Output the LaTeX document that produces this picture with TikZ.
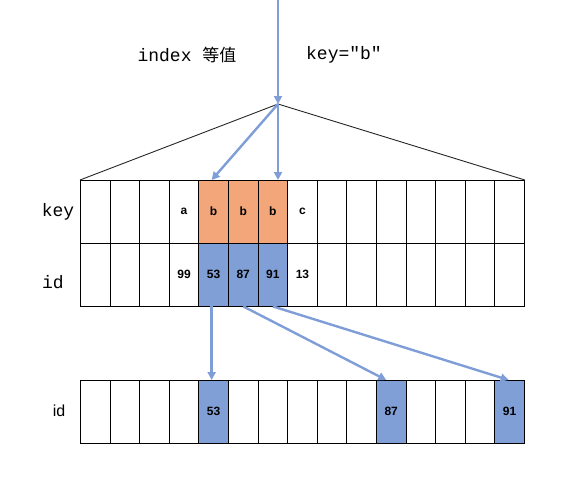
\documentclass[tikz,border=0pt]{standalone}
\usepackage{fontspec}
\setmainfont{Liberation Sans}
\newfontfamily\monof{Liberation Mono}
\newfontfamily\cjk{Noto Sans CJK SC}
\usetikzlibrary{arrows.meta,calc}
\definecolor{cellorange}{HTML}{F2A679}
\definecolor{cellblue}{HTML}{7F9FD6}
\definecolor{arrowblue}{HTML}{7F9ED8}
\begin{document}
\begin{tikzpicture}[x=1pt,y=-1pt,
  cell/.style={draw=black,line width=0.9pt,minimum width=29.6pt,minimum height=62.5pt,inner sep=0pt,anchor=north west,font=\bfseries\fontsize{12}{14}\selectfont},
  ocell/.style={cell,fill=cellorange},
  bcell/.style={cell,fill=cellblue},
  arr/.style={draw=arrowblue,line width=2.4pt,-{Triangle[length=8pt,width=8pt]}},
  edge/.style={draw=black!85,line width=0.9pt},
  lbl/.style={font=\monof\fontsize{18}{20}\selectfont},
  ]
\useasboundingbox (0,0) rectangle (582,483);
% upper key row
\foreach \i in {0,...,14} {
  \pgfmathsetmacro{\xx}{80+29.6*\i}
  \ifnum\i=4 \node[ocell] (k\i) at (\xx,180) {b};
  \else\ifnum\i=5 \node[ocell] (k\i) at (\xx,180) {b};
  \else\ifnum\i=6 \node[ocell] (k\i) at (\xx,180) {b};
  \else\ifnum\i=3 \node[cell] (k\i) at (\xx,180) {a};
  \else\ifnum\i=7 \node[cell] (k\i) at (\xx,180) {c};
  \else \node[cell] (k\i) at (\xx,180) {};
  \fi\fi\fi\fi\fi
}
% upper id row
\foreach \i in {0,...,14} {
  \pgfmathsetmacro{\xx}{80+29.6*\i}
  \ifnum\i=4 \node[bcell] (i\i) at (\xx,243) {53};
  \else\ifnum\i=5 \node[bcell] (i\i) at (\xx,243) {87};
  \else\ifnum\i=6 \node[bcell] (i\i) at (\xx,243) {91};
  \else\ifnum\i=3 \node[cell] (i\i) at (\xx,243) {99};
  \else\ifnum\i=7 \node[cell] (i\i) at (\xx,243) {13};
  \else \node[cell] (i\i) at (\xx,243) {};
  \fi\fi\fi\fi\fi
}
% lower row
\foreach \i in {0,...,14} {
  \pgfmathsetmacro{\xx}{80+29.6*\i}
  \ifnum\i=4 \node[bcell] (b\i) at (\xx,380) {53};
  \else\ifnum\i=10 \node[bcell] (b\i) at (\xx,380) {87};
  \else\ifnum\i=14 \node[bcell] (b\i) at (\xx,380) {91};
  \else \node[cell] (b\i) at (\xx,380) {};
  \fi\fi\fi
}
% labels
\node[lbl] (t1) at (187,55) {index {\cjk\fontsize{17}{20}\selectfont 等值}};
\node[lbl] (t2) at (344,55) {key="b"};
\node[lbl] (lk) at (58,212) {key};
\node[lbl] (li) at (53,282) {id};
\node[font=\fontsize{16}{18}\selectfont] (lb) at (59,411) {id};
% tree triangle
\coordinate (apex) at (278,104);
\coordinate (top) at (278,0);
\draw[edge] (k0.north west) -- (apex) -- (k14.north east);
% arrows
\draw[arr] (top) -- (apex);
\draw[arr] (apex) -- ($(k4.north)+(-2,0)$);
\draw[arr] (apex) -- (apex |- k6.north);
\draw[arr] ($(i4.south)+(-2,0)$) -- ($(b4.north)+(-2,0)$);
\draw[arr] (i5.south) -- ($(b10.north)+(-5,0)$);
\draw[arr] (i6.south) -- ($(b14.north)+(-1,0)$);
\end{tikzpicture}
\end{document}
